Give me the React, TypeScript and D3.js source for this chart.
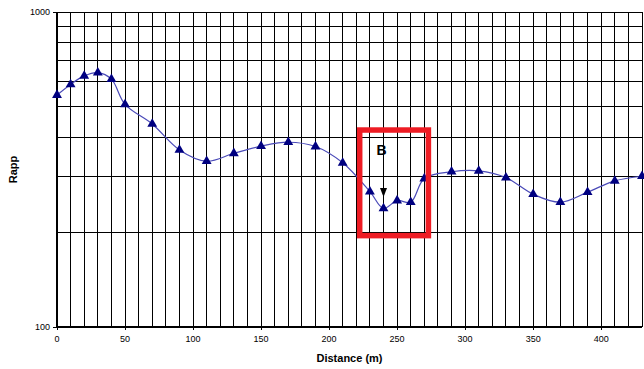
import React from "react";
import * as d3 from "d3";

const distances = [0, 10, 20, 30, 40, 50, 70, 90, 110, 130, 150, 170, 190, 210, 230, 240, 250, 260, 270, 290, 310, 330, 350, 370, 390, 410, 430];
const rapp = [545, 589, 627, 642, 612, 509, 441, 365, 336, 356, 375, 386, 374, 332, 269, 238, 252, 249, 296, 311, 313, 298, 264, 249, 268, 291, 301];
const xTicks = [0, 50, 100, 150, 200, 250, 300, 350, 400];
const yTicks = [100, 1000];
const yGrid = [200, 300, 400, 500, 600, 700, 800, 900];
const highlightRange = [222.5, 273];
const highlightValues = [195, 422];
const annotationLabel = "B";
const annotationX = 240;

const W = 644, H = 369;
const M = { left: 57, right: 2, top: 12, bottom: 42 };

export default function App() {
  const x = d3.scaleLinear().domain([0, 430]).range([M.left, W - M.right]);
  const y = d3.scaleLog().domain([100, 1000]).range([H - M.bottom, M.top]);
  const vGrid = d3.range(10, 431, 10);
  const pts: [number, number][] = distances.map((d, i) => [x(d), y(rapp[i])]);
  const line = d3.line().curve(d3.curveCatmullRom.alpha(0.5))(pts) || "";
  const tri = d3.symbol().type(d3.symbolTriangle).size(42)() || "";
  const rx0 = x(highlightRange[0]), rx1 = x(highlightRange[1]);
  const ry0 = y(highlightValues[1]), ry1 = y(highlightValues[0]);
  const ax = x(annotationX);
  const font = "Liberation Sans, Arial, sans-serif";
  return (
    <svg width={W} height={H} style={{ position: "absolute", left: 0, top: 0, background: "#fff" }}>
      <g stroke="#000" strokeWidth={1} shapeRendering="crispEdges">
        {vGrid.map((g) => (
          <line key={"v" + g} x1={x(g)} x2={x(g)} y1={y(1000)} y2={y(100)} />
        ))}
        {yGrid.map((g) => (
          <line key={"h" + g} x1={x(0)} x2={W - M.right} y1={y(g)} y2={y(g)} />
        ))}
        <line x1={x(0)} x2={W - M.right} y1={y(1000)} y2={y(1000)} />
        <line x1={x(0)} x2={W - M.right} y1={y(100)} y2={y(100)} strokeWidth={1.5} />
        <line x1={x(0)} x2={x(0)} y1={y(1000)} y2={y(100)} strokeWidth={1.5} />
        {yTicks.map((t) => (
          <line key={"yt" + t} x1={x(0) - 4} x2={x(0)} y1={y(t)} y2={y(t)} />
        ))}
        {xTicks.map((t) => (
          <line key={"xt" + t} x1={x(t)} x2={x(t)} y1={y(100)} y2={y(100) + 3} />
        ))}
      </g>
      <g fontFamily={font} fontSize={9} fill="#000">
        {yTicks.map((t) => (
          <text key={"yl" + t} x={x(0) - 7} y={y(t) + 3} textAnchor="end">{t}</text>
        ))}
        {xTicks.map((t) => (
          <text key={"xl" + t} x={x(t)} y={y(100) + 15} textAnchor="middle">{t}</text>
        ))}
      </g>
      <text x={M.left + (W - M.right - M.left) / 2} y={362} textAnchor="middle" fontFamily={font} fontSize={11} fontWeight="bold">Distance (m)</text>
      <text transform={`translate(17,${(M.top + H - M.bottom) / 2}) rotate(-90)`} textAnchor="middle" fontFamily={font} fontSize={11} fontWeight="bold">Rapp</text>
      <path d={line} fill="none" stroke="#4a4ab8" strokeWidth={1.2} />
      {pts.map(([px, py], i) => (
        <path key={"m" + i} d={tri} transform={`translate(${px},${py})`} fill="#000080" />
      ))}
      <rect x={rx0} y={ry0} width={rx1 - rx0} height={ry1 - ry0} fill="none" stroke="#ee1c24" strokeWidth={5.5} />
      <text x={ax - 2} y={155} textAnchor="middle" fontFamily={font} fontSize={14} fontWeight="bold">{annotationLabel}</text>
      <line x1={ax} x2={ax} y1={170} y2={190} stroke="#000" strokeWidth={1} />
      <path d={`M${ax - 3.5},${188} L${ax + 3.5},${188} L${ax},${197} Z`} fill="#000" />
    </svg>
  );
}
